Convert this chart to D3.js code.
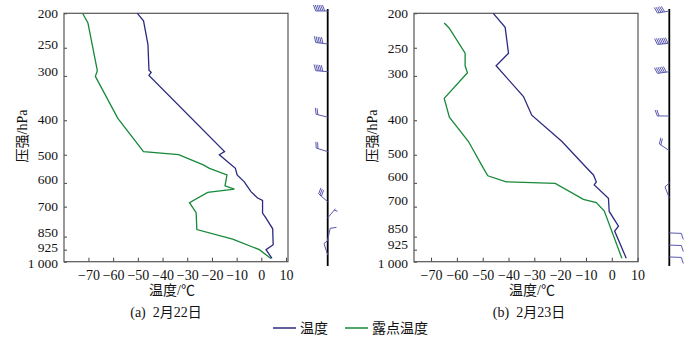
<!DOCTYPE html>
<html><head><meta charset="utf-8">
<script src="https://cdn.jsdelivr.net/npm/d3@7"></script>
<style>
body{margin:0;background:#fff;}
svg{display:block;}
text{font-family:"Liberation Serif","Times New Roman","Noto Sans CJK SC",serif;fill:#111;}
.cjk{font-family:"Liberation Serif","Noto Sans CJK SC",serif;}
</style></head>
<body><svg id="c" width="700" height="340"></svg>
<script>
// ---------- data ----------
const pressureTicks = [200, 250, 300, 400, 500, 600, 700, 850, 925, 1000];
const pressureTickLabels = ["200", "250", "300", "400", "500", "600", "700", "850", "925", "1 000"];
const tempTicks = [-70, -60, -50, -40, -30, -20, -10, 0, 10];

// Panel (a) 2月22日
const tempA_p = [200, 210, 245, 289, 293, 299, 490, 500, 546, 570, 596, 635, 662, 672, 730, 754, 808, 896, 925, 978];
const tempA_t = [-50.2, -47.7, -45.9, -45.5, -44.6, -45.5, -14.9, -17, -10.5, -9.8, -6.9, -4.2, -1.5, 0.5, 0.5, 1.9, 4.6, 4.8, 1.9, 4.3];
const dewA_p = [200, 213, 290, 301, 395, 490, 500, 534, 546, 570, 612, 625, 638, 682, 728, 812, 864, 925, 980];
const dewA_t = [-72.4, -70.2, -66.4, -67.2, -58.1, -47.7, -33.5, -23.5, -21, -13.9, -14.7, -10.9, -21.7, -29.1, -26.4, -26.1, -11.6, -0.8, 3.9];
const windA_p = [197, 244, 292, 392, 490, 678, 753, 869, 957];
const windA_dir = [270, 277, 275, 284, 287, 311, 40, 12, 342];
const windA_spd = [24, 20, 20, 8, 8, 12, 2, 4, 4];   // m/s (1 feather = 4 m/s)

// Panel (b) 2月23日
const tempB_p = [200, 219, 259, 281, 343, 387, 459, 546, 570, 596, 608, 663, 722, 794, 820, 978];
const tempB_t = [-45.9, -41.3, -40.0, -44.8, -34.2, -31.0, -19.3, -9.6, -7.1, -6.0, -6.8, -1.3, -1.0, 2.6, 1.1, 5.6];
const dewB_p = [213, 220, 259, 281, 294, 347, 392, 459, 546, 573, 596, 602, 668, 682, 720, 978];
const dewB_t = [-64.9, -63.0, -56.8, -56.8, -55.9, -64.9, -62.9, -55.5, -49.7, -48.0, -40.9, -21.9, -11.0, -6.0, -2.9, 3.9];
const windB_p = [197, 243, 292, 389, 487, 662, 830, 898, 970];
const windB_dir = [260, 265, 262, 270, 304, 339, 92, 92, 92];
const windB_spd = [20, 28, 24, 8, 8, 4, 4, 4, 4];

const panelLabels = ["(a)  2月22日", "(b)  2月23日"];
const xTitle = "温度/℃";
const yTitle = "压强/hPa";
const legendNames = ["温度", "露点温度"];

// ---------- style / layout ----------
const colT = "#2c2a7e", colD = "#17893a", colW = "#5a58b0";

const svg = d3.select("#c");
svg.append("rect").attr("width",700).attr("height",340).attr("fill","#fff");

const panels = [
  {x0:64, x1:288, dom:[-79.9, 10.8], staff:327.7, titleX:172, capX:166, yTitleX:22,
   nudge:{250:-3.5,300:-5,400:-1,600:-4,850:-4.5,925:-2.5,1000:1.5},
   T:tempA_p.map((p,i)=>({p,t:tempA_t[i]})), D:dewA_p.map((p,i)=>({p,t:dewA_t[i]})),
   W:windA_p.map((p,i)=>({p,d:windA_dir[i],s:windA_spd[i]})), lab:panelLabels[0]},
  {x0:414, x1:638, dom:[-76.6, 10.15], staff:669.3, titleX:532, capX:529, yTitleX:372,
   nudge:{300:-3,400:-1,500:-2,600:-7,700:-6,850:-8,925:-5.5,1000:1.5},
   T:tempB_p.map((p,i)=>({p,t:tempB_t[i]})), D:dewB_p.map((p,i)=>({p,t:dewB_t[i]})),
   W:windB_p.map((p,i)=>({p,d:windB_dir[i],s:windB_spd[i]})), lab:panelLabels[1]}
];
const yTop = 13.3, yBot = 261.7;

function tminus(v){ return v < 0 ? "\u2212" + Math.abs(v) : String(v); }

panels.forEach(P => {
  const x = d3.scaleLinear().domain(P.dom).range([P.x0, P.x1]);
  const y = d3.scaleLog().domain([200, 1000]).range([yTop, yBot]);
  const g = svg.append("g");

  // y axis (ticks inward)
  const ya = g.append("g").attr("transform", `translate(${P.x0},0)`)
    .call(d3.axisLeft(y).tickValues(pressureTicks).tickSizeInner(-3).tickSizeOuter(0).tickPadding(6)
      .tickFormat((d,i)=>pressureTickLabels[i]));
  ya.select(".domain").remove();
  ya.selectAll("line").attr("stroke","#444");
  ya.selectAll("text").attr("font-size",13.5).attr("font-family","Liberation Serif").attr("fill","#111")
    .attr("transform", d => `translate(0,${P.nudge[d]||0})`);

  // x axis (ticks inward)
  const xa = g.append("g").attr("transform", `translate(0,${yBot})`)
    .call(d3.axisBottom(x).tickValues(tempTicks).tickSizeInner(-4).tickSizeOuter(0).tickPadding(8)
      .tickFormat(tminus));
  xa.select(".domain").remove();
  xa.selectAll("line").attr("stroke","#444");
  xa.selectAll("text").attr("font-size",14).attr("font-family","Liberation Serif").attr("fill","#111");

  // frame
  g.append("rect").attr("x",P.x0).attr("y",yTop).attr("width",P.x1-P.x0).attr("height",yBot-yTop)
    .attr("fill","none").attr("stroke","#555").attr("stroke-width",1.2);

  const line = d3.line().x(d=>x(d.t)).y(d=>y(d.p));
  g.append("path").datum(P.D).attr("d",line).attr("fill","none").attr("stroke",colD).attr("stroke-width",1.3);
  g.append("path").datum(P.T).attr("d",line).attr("fill","none").attr("stroke",colT).attr("stroke-width",1.3);

  // titles
  g.append("text").attr("x",P.titleX).attr("y",295).attr("text-anchor","middle").attr("font-size",14)
    .attr("class","cjk").text(xTitle);
  g.append("text").attr("x",P.capX).attr("y",317).attr("text-anchor","middle").attr("font-size",14)
    .attr("class","cjk").style("white-space","pre").text(P.lab);
  g.append("text").attr("transform",`translate(${P.yTitleX+5},${136}) rotate(-90)`).attr("text-anchor","middle")
    .attr("font-size",14).attr("class","cjk").text(yTitle);

  // wind staff
  g.append("line").attr("x1",P.staff).attr("x2",P.staff).attr("y1",9).attr("y2",266)
    .attr("stroke","#000").attr("stroke-width",1.8);

  // wind barbs (1 full feather = 4 m/s, half = 2 m/s)
  P.W.forEach(w => {
    const bx = P.staff, by = y(w.p);
    const a = w.d * Math.PI / 180;
    const ux = Math.sin(a), uy = -Math.cos(a);
    const nx = -uy, ny = ux;
    const L = 12, fl = 6, sp = 1.8, sl = 2.2;
    const tipx = bx + ux*L, tipy = by + uy*L;
    const bg = g.append("g").attr("stroke",colW).attr("fill","none").attr("stroke-width",1);
    bg.append("line").attr("x1",bx).attr("y1",by).attr("x2",tipx).attr("y2",tipy);
    let full = Math.floor(w.s/4), half = (w.s % 4) >= 2 ? 1 : 0, pos = 0;
    for (let k = 0; k < full; k++) {
      const px = tipx - ux*pos, py = tipy - uy*pos;
      bg.append("line").attr("x1",px).attr("y1",py).attr("x2",px+nx*fl+ux*sl).attr("y2",py+ny*fl+uy*sl);
      pos += sp;
    }
    if (half) {
      if (pos === 0) pos = sp;
      const px = tipx - ux*pos, py = tipy - uy*pos;
      bg.append("line").attr("x1",px).attr("y1",py).attr("x2",px+nx*fl*0.55+ux*sl*0.55).attr("y2",py+ny*fl*0.55+uy*sl*0.55);
    }
  });
});

// legend
const lg = svg.append("g");
const legendItems = [{x:273, c:colT, t:legendNames[0]}, {x:345, c:colD, t:legendNames[1]}];
legendItems.forEach(it => {
  lg.append("line").attr("x1",it.x).attr("x2",it.x+23).attr("y1",328).attr("y2",328)
    .attr("stroke",it.c).attr("stroke-width",1.5);
  lg.append("text").attr("x",it.x+27).attr("y",333).attr("font-size",14).attr("class","cjk").text(it.t);
});
</script></body></html>
